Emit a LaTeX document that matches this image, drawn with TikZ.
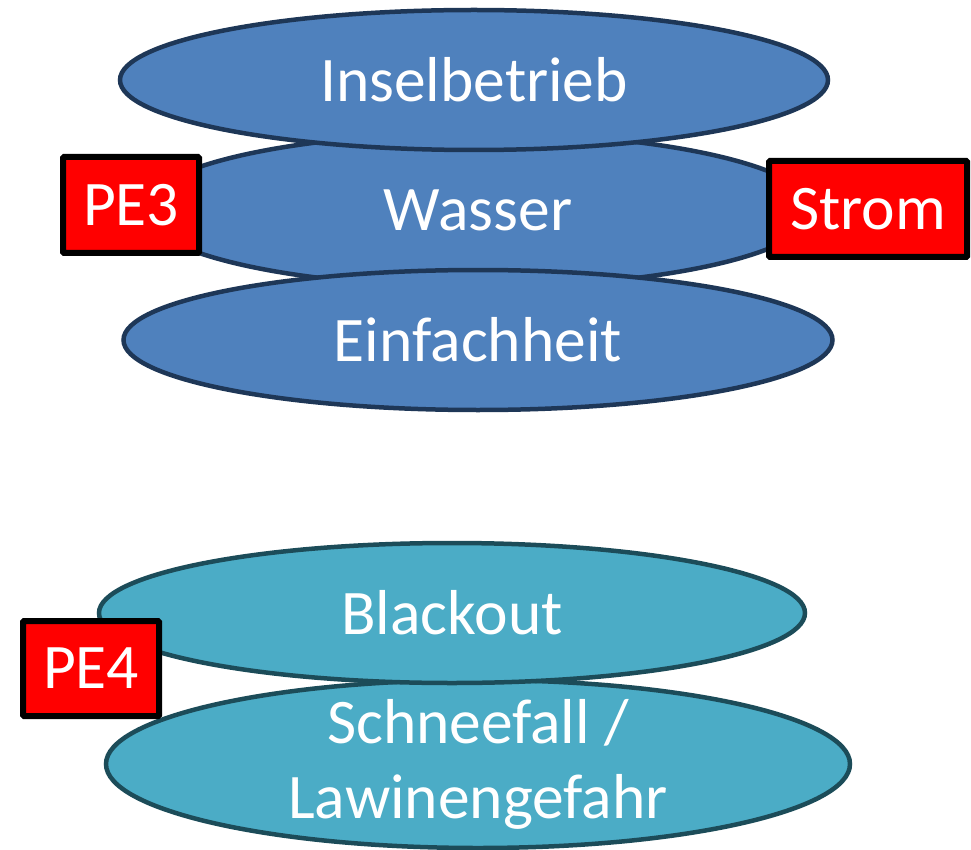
\documentclass[tikz,border=0pt]{standalone}
\usepackage{fontspec}
\setmainfont{Carlito}
\usetikzlibrary{shapes.geometric,positioning}
\definecolor{topfill}{HTML}{4F81BD}
\definecolor{topline}{HTML}{1E3757}
\definecolor{botfill}{HTML}{4BACC6}
\definecolor{botline}{HTML}{1C4C59}

\begin{document}
\begin{tikzpicture}[x=1pt, y=-1pt, node distance=130pt,
    bubble/.style={ellipse, line width=4.5pt, inner sep=0pt, text=white,
      font=\fontsize{63.5}{75}\selectfont},
    top node/.style={bubble, draw=topline, fill=topfill},
    bottom node/.style={bubble, draw=botline, fill=botfill},
    tag node/.style={rectangle, draw=black, fill=red, line width=6pt,
      rounded corners=1pt, inner sep=0pt, minimum height=96pt, text=white,
      font=\fontsize{63.5}{75}\selectfont}]
  \useasboundingbox (0,0) rectangle (971,850);

  % upper stack
  \node[top node, minimum width=672pt, minimum height=154pt] (wasser) at (478,210) {Wasser};
  \node[top node, minimum width=708pt, minimum height=140pt] (insel) [above of=wasser, xshift=-4pt] {Inselbetrieb};
  \node[top node, minimum width=709pt, minimum height=140pt] (einfach) [below of=wasser] {Einfachheit};
  \node[tag node, minimum width=136pt] (pe3) at (131,205) {PE3};
  \node[tag node, minimum width=198pt] (strom) at (868,209) {Strom};

  % lower stack
  \node[bottom node, minimum width=744pt, minimum height=168pt,
    label={[bubble, align=center]center:{Schneefall /\\Lawinengefahr}}] (schnee) at (478,764) {};
  \node[bottom node, minimum width=706pt, minimum height=140pt] (blackout) at (452,613) {Blackout};
  \node[tag node, minimum width=136pt, minimum height=95pt] (pe4) at (91,668.5) {PE4};
\end{tikzpicture}
\end{document}
